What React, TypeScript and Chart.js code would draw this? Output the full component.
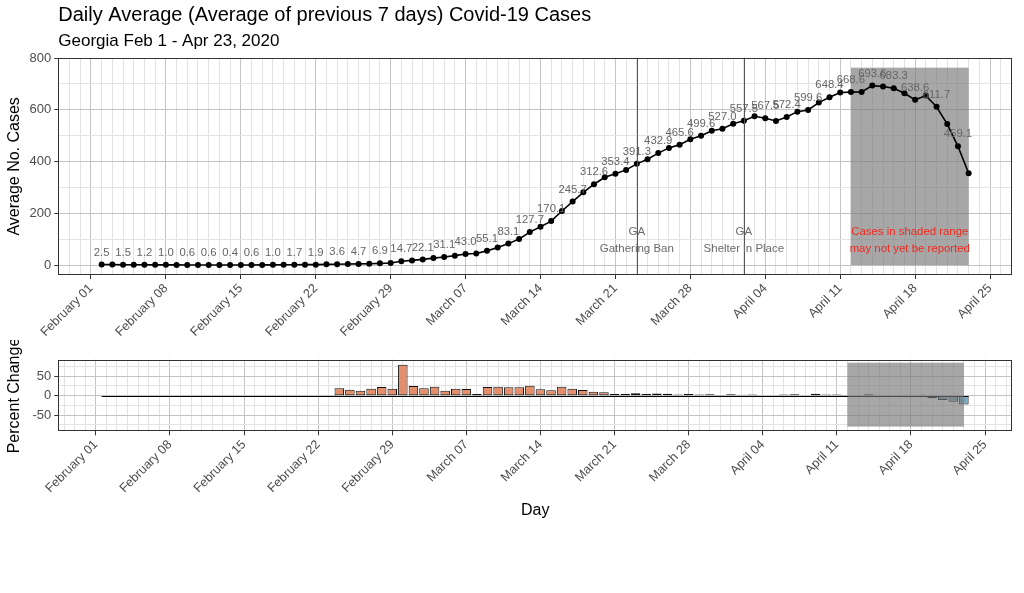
import React, { useEffect, useRef } from "react";
import { Chart, registerables } from "chart.js";

Chart.register(...registerables);

// ---------- data ----------
// 7-day average of daily cases, one value per day starting Feb 02, 2020 (day 1) up to Apr 23 (day 82)
const avgCases: number[] = [
  2.5, 2.0, 1.5, 1.3, 1.2, 1.1, 1.0, 0.8, 0.6, 0.6,
  0.6, 0.5, 0.4, 0.5, 0.6, 0.8, 1.0, 1.4, 1.7, 1.8,
  1.9, 3.0, 3.6, 4.1, 4.7, 5.6, 6.9, 8.1, 14.7, 18.3,
  22.1, 27.2, 31.1, 36.7, 43.0, 44.9, 55.1, 67.8, 83.1, 100.9,
  127.7, 148.4, 170.1, 209.2, 245.7, 281.3, 312.6, 339.2, 353.4, 368.0,
  391.3, 409.0, 432.9, 453.0, 465.6, 486.0, 499.6, 519.0, 527.0, 546.0,
  557.5, 575.0, 567.5, 557.0, 572.4, 593.0, 599.6, 628.0, 648.4, 667.0,
  668.6, 669.0, 693.6, 690.0, 683.3, 664.0, 638.6, 655.0, 611.7, 545.0,
  459.1, 355.0,
];

// day-over-day percent change of the average
const pctChange: number[] = [
  0, 0, 0, 0, 0, 0, 0, 0, 0, 0,
  0, 0, 0, 0, 0, 0, 0, 0, 0, 0,
  0, 0, 18.8, 15.4, 12.8, 18.0, 22.0, 18.0, 79.5, 24.8,
  18.8, 23.0, 12.8, 18.0, 17.0, 4.3, 22.0, 23.0, 21.4, 21.4,
  25.6, 16.2, 13.7, 23.0, 18.0, 14.5, 10.3, 8.5, 4.2, 4.1,
  6.3, 4.5, 5.8, 4.6, 2.8, 4.4, 2.8, 3.9, 1.5, 3.6,
  2.1, 3.1, -1.3, -1.9, 2.8, 3.6, 1.1, 4.7, 3.2, 2.9,
  0.2, 0.1, 3.7, -0.5, -1.0, -2.8, -3.8, 2.6, -6.6, -10.9,
  -15.8, -22.7,
];

// day index 0 = February 01
const tickLabels: string[] = [
  "February 01", "February 08", "February 15", "February 22", "February 29",
  "March 07", "March 14", "March 21", "March 28",
  "April 04", "April 11", "April 18", "April 25",
];
const tickDays: number[] = tickLabels.map((_, i) => i * 7);

const countTicks: number[] = [0, 200, 400, 600, 800];
const pctTicks: number[] = [-50, 0, 50];

const eventDays: number[] = [51, 61];
const eventTexts: string[][] = [["GA", "Gathering Ban"], ["GA", "Shelter in Place"]];
const eventTextY = 94;

const shadeStartDay = 71;
const shadeEndDay = 82;
const noteTexts: string[] = ["Cases in shaded range", "may not yet be reported"];

const pctShadeRange: number[] = [-79.5, 84.6];
const pctAxisRange: number[] = [-91.5, 92.3];

const titleText = "Daily Average (Average of previous 7 days) Covid-19 Cases";
const subtitleText = "Georgia Feb 1 - Apr 23, 2020";

// ---------- derived ----------
const days: number[] = avgCases.map((_, i) => i + 1);
const FONT = '"Liberation Sans", Arial, Helvetica, sans-serif';
const MAJOR = "#c4c4c4";
const MINOR = "#e3e3e3";
const TICK_TEXT = "#4d4d4d";
const BORDER = "#333333";

const firstDay = days[0];
const lastDay = days[days.length - 1];
const topXSpan = lastDay - firstDay;
const topXMin = firstDay - 0.05 * topXSpan;
const topXMax = lastDay + 0.05 * topXSpan;
const shadeTop = 1.1 * Math.max(...avgCases);
const topYMin = -0.05 * shadeTop;
const topYMax = shadeTop * 1.05;

const barW = 0.9;
const botXSpan = lastDay - firstDay + barW;
const botXMin = firstDay - barW / 2 - 0.05 * botXSpan;
const botXMax = lastDay + barW / 2 + 0.05 * botXSpan;

const range = (a: number, b: number, step: number) => {
  const out: number[] = [];
  for (let v = Math.ceil(a / step) * step; v <= b + 1e-9; v += step) out.push(v);
  return out;
};

const xLabel = (v: number) => {
  const i = tickDays.indexOf(v);
  return i >= 0 ? tickLabels[i] : "";
};

const xScale = (min: number, max: number, height: number) => ({
  type: "linear" as const,
  min,
  max,
  offset: false,
  afterBuildTicks: (s: any) => {
    s.ticks = range(min, max, 1).map((v) => ({ value: v }));
  },
  afterFit: (s: any) => {
    s.height = height;
    s.paddingLeft = 0;
    s.paddingRight = 0;
  },
  ticks: {
    autoSkip: false,
    maxRotation: 45,
    minRotation: 45,
    padding: 2,
    color: TICK_TEXT,
    font: { family: FONT, size: 12.6 },
    callback: (v: any) => xLabel(Number(v)),
  },
  grid: {
    offset: false,
    lineWidth: 1,
    tickLength: 4,
    color: (c: any) => (c.tick && tickDays.includes(c.tick.value) ? MAJOR : MINOR),
    tickColor: (c: any) =>
      c.tick && tickDays.includes(c.tick.value) ? BORDER : "rgba(0,0,0,0)",
  },
  border: { display: false },
});

const yScale = (min: number, max: number, minorStep: number, majors: number[]) => ({
  type: "linear" as const,
  min,
  max,
  afterBuildTicks: (s: any) => {
    s.ticks = range(min, max, minorStep).map((v) => ({ value: v }));
  },
  afterFit: (s: any) => {
    s.width = 58.3;
    s.paddingTop = 0;
    s.paddingBottom = 0;
  },
  ticks: {
    autoSkip: false,
    padding: 3,
    color: TICK_TEXT,
    font: { family: FONT, size: 13 },
    callback: (v: any) => (majors.includes(Number(v)) ? String(v) : ""),
  },
  grid: {
    lineWidth: 1,
    tickLength: 4,
    color: (c: any) => (c.tick && majors.includes(c.tick.value) ? MAJOR : MINOR),
    tickColor: (c: any) =>
      c.tick && majors.includes(c.tick.value) ? BORDER : "rgba(0,0,0,0)",
  },
  border: { display: false },
});

const drawBorder = (ctx: CanvasRenderingContext2D, a: any) => {
  ctx.save();
  ctx.strokeStyle = BORDER;
  ctx.lineWidth = 1;
  const l = Math.round(a.left) + 0.5;
  const t = Math.round(a.top) + 0.5;
  const r = Math.round(a.right) - 0.5;
  const b = Math.round(a.bottom) - 0.5;
  ctx.strokeRect(l, t, r - l, b - t);
  ctx.restore();
};

const drawVerticalTitle = (ctx: CanvasRenderingContext2D, text: string, x: number, y: number) => {
  ctx.save();
  ctx.translate(x, y);
  ctx.rotate(-Math.PI / 2);
  ctx.font = `16px ${FONT}`;
  ctx.fillStyle = "#000";
  ctx.textAlign = "center";
  ctx.textBaseline = "middle";
  ctx.fillText(text, 0, 0);
  ctx.restore();
};

const topPlugin = {
  id: "topDecor",
  beforeDatasetsDraw(chart: any) {
    const { ctx } = chart;
    const x = chart.scales.x;
    const y = chart.scales.y;
    ctx.save();
    // shaded range (under the line and points)
    const sx0 = x.getPixelForValue(shadeStartDay);
    const sx1 = x.getPixelForValue(shadeEndDay);
    const sy0 = y.getPixelForValue(shadeTop);
    const sy1 = y.getPixelForValue(0);
    ctx.fillStyle = "rgba(120,120,120,0.65)";
    ctx.fillRect(sx0, sy0, sx1 - sx0, sy1 - sy0);
    ctx.restore();
  },
  afterDatasetsDraw(chart: any) {
    const { ctx, chartArea: a } = chart;
    const x = chart.scales.x;
    const y = chart.scales.y;
    ctx.save();
    // point value labels (every other day)
    ctx.font = `11.3px ${FONT}`;
    ctx.fillStyle = "#666666";
    ctx.textAlign = "center";
    ctx.textBaseline = "middle";
    days.forEach((d, i) => {
      if (i % 2 === 0) {
        ctx.fillText(avgCases[i].toFixed(1), x.getPixelForValue(d), y.getPixelForValue(avgCases[i]) - 12);
      }
    });
    // event lines
    ctx.strokeStyle = "#555555";
    ctx.lineWidth = 1;
    eventDays.forEach((d) => {
      const px = Math.round(x.getPixelForValue(d)) + 0.5;
      ctx.beginPath();
      ctx.moveTo(px, a.top);
      ctx.lineTo(px, a.bottom);
      ctx.stroke();
    });
    // event texts
    ctx.font = `11.5px ${FONT}`;
    ctx.fillStyle = "#6b6b6b";
    eventDays.forEach((d, k) => {
      const px = x.getPixelForValue(d);
      const py = y.getPixelForValue(eventTextY);
      ctx.fillText(eventTexts[k][0], px, py - 8.5);
      ctx.fillText(eventTexts[k][1], px, py + 8.5);
    });
    // note
    const sx0 = x.getPixelForValue(shadeStartDay);
    const sx1 = x.getPixelForValue(shadeEndDay);
    ctx.font = `11.4px ${FONT}`;
    ctx.fillStyle = "#f0281e";
    const nx = (sx0 + sx1) / 2;
    const ny = y.getPixelForValue(eventTextY);
    ctx.fillText(noteTexts[0], nx, ny - 8.5);
    ctx.fillText(noteTexts[1], nx, ny + 8.5);
    ctx.restore();
  },
  afterDraw(chart: any) {
    const { ctx, chartArea: a } = chart;
    drawBorder(ctx, a);
    ctx.save();
    ctx.fillStyle = "#000";
    ctx.textAlign = "left";
    ctx.textBaseline = "alphabetic";
    ctx.font = `20px ${FONT}`;
    ctx.fillText(titleText, a.left, 21.2);
    ctx.font = `17px ${FONT}`;
    ctx.fillText(subtitleText, a.left, 46);
    ctx.restore();
    drawVerticalTitle(ctx, "Average No. Cases", 15, (a.top + a.bottom) / 2);
  },
};

const botPlugin = {
  id: "botDecor",
  afterDatasetsDraw(chart: any) {
    const { ctx } = chart;
    const x = chart.scales.x;
    const y = chart.scales.y;
    ctx.save();
    // zero-height bar outlines form the baseline
    const y0 = Math.round(y.getPixelForValue(0)) + 0.5;
    ctx.strokeStyle = "#000";
    ctx.lineWidth = 1;
    ctx.beginPath();
    ctx.moveTo(x.getPixelForValue(firstDay - barW / 2), y0);
    ctx.lineTo(x.getPixelForValue(lastDay + barW / 2), y0);
    ctx.stroke();
    // shaded range (over the bars)
    const sx0 = x.getPixelForValue(shadeStartDay);
    const sx1 = x.getPixelForValue(shadeEndDay);
    const sy0 = y.getPixelForValue(pctShadeRange[1]);
    const sy1 = y.getPixelForValue(pctShadeRange[0]);
    ctx.fillStyle = "rgba(120,120,120,0.65)";
    ctx.fillRect(sx0, sy0, sx1 - sx0, sy1 - sy0);
    ctx.restore();
  },
  afterDraw(chart: any) {
    const { ctx, chartArea: a } = chart;
    drawBorder(ctx, a);
    drawVerticalTitle(ctx, "Percent Change", 15, (a.top + a.bottom) / 2);
    ctx.save();
    ctx.font = `16px ${FONT}`;
    ctx.fillStyle = "#000";
    ctx.textAlign = "center";
    ctx.textBaseline = "middle";
    ctx.fillText("Day", (a.left + a.right) / 2, 171);
    ctx.restore();
  },
};

export default function App() {
  const topRef = useRef<HTMLCanvasElement>(null);
  const botRef = useRef<HTMLCanvasElement>(null);

  useEffect(() => {
    const top = new Chart(topRef.current as HTMLCanvasElement, {
      type: "line",
      data: {
        datasets: [
          {
            data: days.map((d, i) => ({ x: d, y: avgCases[i] })),
            borderColor: "#000",
            borderWidth: 1.6,
            backgroundColor: "#000",
            pointRadius: 3,
            pointBorderWidth: 0,
            pointBackgroundColor: "#000",
            tension: 0,
          },
        ],
      },
      options: {
        responsive: false,
        animation: false,
        devicePixelRatio: 1,
        events: [],
        layout: { padding: { top: 57.8, right: 12, left: 0, bottom: 0 } },
        plugins: { legend: { display: false }, tooltip: { enabled: false }, title: { display: false } },
        scales: {
          x: xScale(topXMin, topXMax, 65),
          y: yScale(topYMin, topYMax, 100, countTicks),
        },
      } as any,
      plugins: [topPlugin],
    });

    const bot = new Chart(botRef.current as HTMLCanvasElement, {
      type: "bar",
      data: {
        datasets: [
          {
            data: days.map((d, i) => ({ x: d, y: pctChange[i] })),
            backgroundColor: pctChange.map((v) => (v >= 0 ? "#e48f6c" : "#77a8c0")),
            borderColor: "#111",
            borderWidth: 1,
            borderSkipped: false,
            barPercentage: barW,
            categoryPercentage: 1,
          },
        ],
      },
      options: {
        responsive: false,
        animation: false,
        devicePixelRatio: 1,
        events: [],
        layout: { padding: { top: 19.7, right: 12, left: 0, bottom: 0 } },
        plugins: { legend: { display: false }, tooltip: { enabled: false }, title: { display: false } },
        scales: {
          x: xScale(botXMin, botXMax, 161.7),
          y: yScale(pctAxisRange[0], pctAxisRange[1], 25, pctTicks),
        },
      } as any,
      plugins: [botPlugin],
    });

    return () => {
      top.destroy();
      bot.destroy();
    };
  }, []);

  return (
    <div style={{ position: "absolute", left: 0, top: 0, width: 1024, height: 593, background: "#fff" }}>
      <canvas ref={topRef} width={1024} height={340} style={{ position: "absolute", left: 0, top: 0 }} />
      <canvas ref={botRef} width={1024} height={253} style={{ position: "absolute", left: 0, top: 340 }} />
    </div>
  );
}
